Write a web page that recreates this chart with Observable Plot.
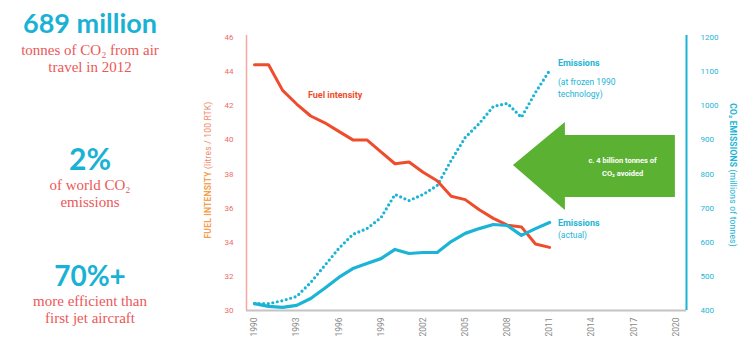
<!DOCTYPE html>
<html>
<head>
<meta charset="utf-8">
<script src="https://cdn.jsdelivr.net/npm/d3@7"></script>
<script src="https://cdn.jsdelivr.net/npm/@observablehq/plot@0.6"></script>
<style>
  body { margin: 0; background: #fff; }
  #wrap { position: relative; width: 753px; height: 344px; overflow: hidden; font-family: Roboto, "Open Sans", sans-serif; }
  #wrap svg { position: absolute; left: 0; top: 0; }
  .stat { position: absolute; left: 0; width: 180px; text-align: center; }
  .big { font-family: Lato, "Open Sans", sans-serif; font-weight: 700; color: #1ab2d4; line-height: 1; }
  .sub { font-family: "Liberation Serif", "DejaVu Serif", serif; color: #ec5757; font-size: 15px; line-height: 17px; }
  .vt { position: absolute; white-space: nowrap; font-size: 8.5px; letter-spacing: 0.2px; }
</style>
</head>
<body>
<div id="wrap">
  <div class="stat" style="top:9px"><div class="big" style="font-size:27px">689 million</div>
    <div class="sub" style="margin-top:6px">tonnes of CO₂ from air<br>travel in 2012</div></div>
  <div class="stat" style="top:143px"><div class="big" style="font-size:30px">2%</div>
    <div class="sub" style="margin-top:4px">of world CO₂<br>emissions</div></div>
  <div class="stat" style="top:261px"><div class="big" style="font-size:28px">70%+</div>
    <div class="sub" style="margin-top:4px">more efficient than<br>first jet aircraft</div></div>
</div>
<script>
// Years on the x axis
const years = d3.range(1990, 2012);
const yearTicks = [1990, 1993, 1996, 1999, 2002, 2005, 2008, 2011, 2014, 2017, 2020];

// Fuel intensity, litres / 100 RTK (left axis)
const fuelIntensity = [44.4, 44.4, 42.9, 42.1, 41.4, 41.0, 40.5, 40.0, 40.0, 39.3, 38.6,
                       38.7, 38.1, 37.6, 36.7, 36.5, 35.9, 35.4, 35.0, 34.9, 33.9, 33.7];

// CO2 emissions, millions of tonnes (right axis)
const emissionsActual = [420, 412, 409, 415, 435, 465, 497, 523, 538, 552, 579,
                         567, 570, 570, 602, 626, 640, 652, 649, 620, 640, 658];
const emissionsFrozen1990 = [420, 420, 429, 441, 482, 532, 582, 623, 640, 672, 740,
                             722, 740, 766, 840, 907, 948, 998, 1007, 966, 1039, 1103];

// Axis tick values
const fuelTicks = [30, 32, 34, 36, 38, 40, 42, 44, 46];
const emissionTicks = [400, 500, 600, 700, 800, 900, 1000, 1100, 1200];

// Outline of the "avoided emissions" arrow, in year / Mt units
const arrowShape = [
  {x: 2008.43, lo: 825, hi: 825},
  {x: 2012.13, lo: 693, hi: 951},
  {x: 2012.13, lo: 731, hi: 913},
  {x: 2019.96, lo: 731, hi: 913}
];

const xDomain = [1989.43, 2020.75];
// Fuel intensity shares the emissions scale: 30 → 400 Mt, 46 → 1200 Mt
const fiToY = v => 400 + (v - 30) * 50;
const yToFi = v => 30 + (v - 400) / 50;

const red = "#ef4c2c", cyan = "#1cb4d6", green = "#5bb131";

const rows = years.map((year, i) => ({
  year, fi: fiToY(fuelIntensity[i]), actual: emissionsActual[i], frozen: emissionsFrozen1990[i]
}));

const chart = Plot.plot({
  width: 753,
  height: 344,
  marginLeft: 246,
  marginRight: 67,
  marginTop: 37,
  marginBottom: 34,
  style: {fontFamily: "Roboto, sans-serif", background: "transparent"},
  x: {domain: xDomain},
  y: {domain: [400, 1200]},
  marks: [
    Plot.ruleY([400], {stroke: "#c4c4c4", strokeWidth: 2}),
    Plot.ruleX([xDomain[0]], {stroke: "#f7a7a0", strokeWidth: 1.5, y1: 400, y2: 1206}),
    Plot.ruleX([xDomain[1]], {stroke: cyan, strokeWidth: 2, y1: 400, y2: 1206}),
    Plot.areaY(arrowShape, {x: "x", y1: "lo", y2: "hi", fill: green, curve: "linear"}),
    Plot.text(["c. 4 billion tonnes of", "CO₂ avoided"], {
      x: 2016.2, y: (d, i) => 840 - i * 40, text: d => d,
      fill: "white", fontSize: 7.5, fontWeight: "bold"
    }),
    Plot.line(rows, {x: "year", y: "frozen", stroke: cyan, strokeWidth: 3.2,
      strokeDasharray: "0,4.6", strokeLinecap: "round"}),
    Plot.line(rows, {x: "year", y: "fi", stroke: red, strokeWidth: 3}),
    Plot.line(rows, {x: "year", y: "actual", stroke: cyan, strokeWidth: 3.2}),
    Plot.text(["Fuel intensity"], {x: 1993.8, y: 1030, text: d => d, fill: red,
      fontSize: 9, fontWeight: "bold", textAnchor: "start"}),
    Plot.text(["Emissions"], {x: 2011.6, y: 1124, text: d => d, fill: cyan,
      fontSize: 9, fontWeight: "bold", textAnchor: "start"}),
    Plot.text(["(at frozen 1990\ntechnology)"], {x: 2011.6, y: 1086, text: d => d, fill: cyan,
      fontSize: 8.5, textAnchor: "start", lineAnchor: "top", lineHeight: 1.45}),
    Plot.text(["Emissions"], {x: 2011.6, y: 655, text: d => d, fill: cyan,
      fontSize: 9, fontWeight: "bold", textAnchor: "start"}),
    Plot.text(["(actual)"], {x: 2011.6, y: 620, text: d => d, fill: cyan,
      fontSize: 8.5, textAnchor: "start"}),
    Plot.axisX({ticks: yearTicks, tickFormat: d => String(d), tickRotate: -90,
      tickSize: 0, tickPadding: 7, fontSize: 8.5, fill: "#8a8a8a", label: null}),
    Plot.axisY({anchor: "left", ticks: fuelTicks.map(fiToY), tickFormat: d => String(yToFi(d)),
      tickSize: 0, tickPadding: 13, fontSize: 8, fill: "#ee6a6a", label: null}),
    Plot.axisY({anchor: "right", ticks: emissionTicks, tickFormat: d => String(d),
      tickSize: 0, tickPadding: 14, fontSize: 8, fill: cyan, label: null})
  ]
});

const wrap = document.getElementById("wrap");
wrap.insertBefore(chart, wrap.firstChild);

// Rotated axis titles
const left = document.createElement("div");
left.className = "vt";
left.innerHTML = '<b style="color:#f5a04f">FUEL INTENSITY</b> <span style="color:#f08a6c">(litres / 100 RTK)</span>';
wrap.appendChild(left);
const lw = left.offsetWidth, lh = left.offsetHeight;
left.style.left = (207 - lw / 2) + "px";
left.style.top = (170 - lh / 2) + "px";
left.style.transform = "rotate(-90deg)";

const right = document.createElement("div");
right.className = "vt";
right.innerHTML = '<b>CO₂ EMISSIONS</b> (millions of tonnes)';
right.style.color = cyan;
wrap.appendChild(right);
const rw = right.offsetWidth, rh = right.offsetHeight;
right.style.left = (733 - rw / 2) + "px";
right.style.top = (175 - rh / 2) + "px";
right.style.transform = "rotate(90deg)";
</script>
</body>
</html>
